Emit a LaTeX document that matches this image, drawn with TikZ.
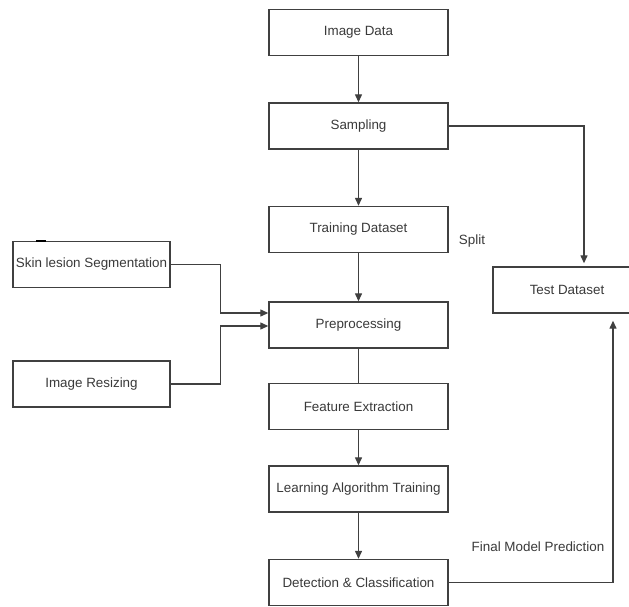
\documentclass[tikz,border=0pt]{standalone}
\usepackage{fontspec}
\setmainfont{Liberation Sans}
\usetikzlibrary{arrows.meta}
\definecolor{edge}{HTML}{404040}
\definecolor{txt}{HTML}{3A3A3A}
\begin{document}
\begin{tikzpicture}[x=1pt,y=1pt,
  box/.style={draw=edge, line width=1.4pt, fill=white, text=txt, minimum height=46pt, inner sep=0pt, font=\fontsize{13.4}{15}\selectfont},
  mainbox/.style={box, minimum width=179pt},
  sidebox/.style={box, minimum width=157pt},
  conn/.style={draw=edge, line width=1.3pt},
  arr/.style={conn, -{Triangle[length=8pt,width=7pt]}},
  lbl/.style={text=txt, font=\fontsize{13.4}{15}\selectfont, inner sep=0pt}]
\useasboundingbox (0,0) rectangle (629,-607);
\clip (0,0) rectangle (629,-607);
\fill[white] (0,0) rectangle (629,-607);
% main column
\node[mainbox] (imgdata) at (358.5,-32.5) {Image Data};
\node[mainbox] (sampling) at (358.5,-126) {Sampling};
\node[mainbox] (training) at (358.5,-229.5) {Training Dataset};
\node[mainbox] (preproc) at (358.5,-325) {Preprocessing};
\node[mainbox] (feature) at (358.5,-406.5) {Feature Extraction};
\node[mainbox] (learning) at (358.5,-489) {Learning Algorithm Training};
\node[mainbox] (detect) at (358.5,-582.5) {Detection \& Classification};
% side boxes
\node[sidebox] (skin) at (91.5,-264.5) {Skin lesion Segmentation};
\node[sidebox] (resize) at (91.5,-384) {Image Resizing};
\node[box, minimum width=148pt] (test) at (567,-290) {Test Dataset};
% labels
\node[lbl] (split) at (472,-241) {Split};
\node[lbl] (fmp) at (538,-547) {Final Model Prediction};
% artifact mark
\draw[black, line width=2pt] (36,-241) -- (46,-241);
% connectors
\draw[arr] (imgdata) -- (sampling);
\draw[arr] (sampling) -- (training);
\draw[arr] (training) -- (preproc);
\draw[conn] (preproc) -- (feature);
\draw[arr] (feature) -- (learning);
\draw[arr] (learning) -- (detect);
\draw[arr] (sampling.east) -| ([xshift=17pt,yshift=3pt]test.north);
\draw[arr, shorten >=7pt] (detect.east) -| ([xshift=46pt]test.south);
\draw[arr] (skin.east) -- ++(50,0) |- ([yshift=12pt]preproc.west);
\draw[arr] (resize.east) -- ++(50,0) |- ([yshift=-1pt]preproc.west);
\end{tikzpicture}
\end{document}
